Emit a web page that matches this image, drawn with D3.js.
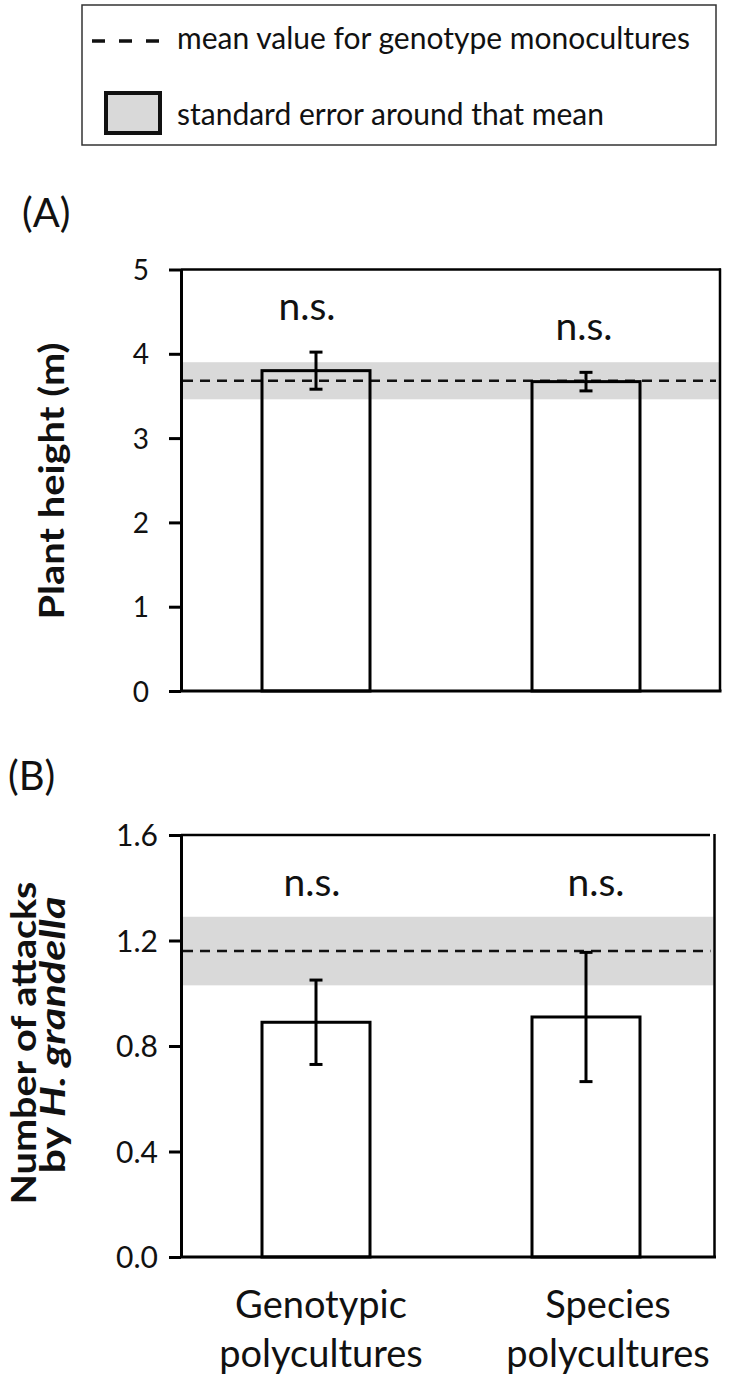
<!DOCTYPE html>
<html>
<head>
<meta charset="utf-8">
<script src="https://cdn.jsdelivr.net/npm/d3@7"></script>
<style>
  body { margin: 0; background: #fff; }
  svg text { font-family: Lato, 'Open Sans', sans-serif; fill: #111; }
</style>
</head>
<body>
<script>
'use strict'

// categories shared by both panels
var categories = ['Genotypic polycultures', 'Species polycultures']
var categoryLines = [['Genotypic', 'polycultures'], ['Species', 'polycultures']]

// (A) plant height (m)
var heightMean = [3.80, 3.67]
var heightSE = [0.22, 0.11]
var heightMonoMean = 3.68
var heightMonoSE = 0.22
var heightTicks = [0, 1, 2, 3, 4, 5]

// (B) attacks by H. grandella
var attackMean = [0.89, 0.91]
var attackSE = [0.16, 0.245]
var attackMonoMean = 1.16
var attackMonoSE = 0.13
var attackTicks = [0, 0.4, 0.8, 1.2, 1.6]

var W = 729
var H = 1380

var svg = d3.select('body').append('svg')
  .attr('width', W)
  .attr('height', H)

// ---------- legend ----------
var legend = svg.append('g')
legend.append('rect')
  .attr('x', 82).attr('y', 5)
  .attr('width', 634).attr('height', 140)
  .attr('fill', 'none')
  .attr('stroke', '#333')
  .attr('stroke-width', 1.5)
legend.append('line')
  .attr('x1', 92).attr('x2', 160)
  .attr('y1', 41).attr('y2', 41)
  .attr('stroke', '#111')
  .attr('stroke-width', 3.5)
  .attr('stroke-dasharray', '13,14')
legend.append('text')
  .attr('x', 177).attr('y', 49)
  .attr('font-size', '30px')
  .text('mean value for genotype monocultures')
legend.append('rect')
  .attr('x', 106).attr('y', 93)
  .attr('width', 54).attr('height', 40)
  .attr('fill', '#d9d9d9')
  .attr('stroke', '#111')
  .attr('stroke-width', 4)
legend.append('text')
  .attr('x', 177).attr('y', 125)
  .attr('font-size', '30px')
  .text('standard error around that mean')

var x = d3.scaleBand()
  .domain(categories)
  .range([181, 721])
  .paddingInner(0.6)
  .paddingOuter(0.3)

function drawPanel (opt) {
  var g = svg.append('g')
  var y = d3.scaleLinear().domain(opt.domain).range(opt.range)
  var left = x.range()[0]
  var right = opt.right
  var data = categories.map(function (c, i) {
    return { cat: c, mean: opt.mean[i], se: opt.se[i], i: i }
  })

  // panel letter
  g.append('text')
    .attr('x', opt.letterX).attr('y', opt.letterY)
    .attr('font-size', '40px')
    .text(opt.letter)

  // SE band of monocultures
  g.append('rect')
    .attr('x', left)
    .attr('width', right - left - 1)
    .attr('y', y(opt.monoMean + opt.monoSE))
    .attr('height', y(opt.monoMean - opt.monoSE) - y(opt.monoMean + opt.monoSE))
    .attr('fill', '#d9d9d9')

  // mean of monocultures
  g.append('line')
    .attr('x1', left + 2).attr('x2', right - 4)
    .attr('y1', y(opt.monoMean)).attr('y2', y(opt.monoMean))
    .attr('stroke', '#111')
    .attr('stroke-width', 2.5)
    .attr('stroke-dasharray', '10,7')

  // bars
  g.selectAll('.bar')
    .data(data)
    .enter().append('rect')
    .attr('class', 'bar')
    .attr('x', function (d) { return x(d.cat) })
    .attr('width', x.bandwidth())
    .attr('y', function (d) { return y(d.mean) })
    .attr('height', function (d) { return y(0) - y(d.mean) })
    .attr('fill', 'none')
    .attr('stroke', '#000')
    .attr('stroke-width', 3)

  // error bars
  var cap = 6.5
  var eb = g.selectAll('.err')
    .data(data)
    .enter().append('g')
    .attr('class', 'err')
    .attr('stroke', '#000')
    .attr('stroke-width', 3)
  eb.append('line')
    .attr('x1', function (d) { return x(d.cat) + x.bandwidth() / 2 })
    .attr('x2', function (d) { return x(d.cat) + x.bandwidth() / 2 })
    .attr('y1', function (d) { return y(d.mean - d.se) })
    .attr('y2', function (d) { return y(d.mean + d.se) })
  eb.selectAll('.cap')
    .data(function (d) { return [d.mean - d.se, d.mean + d.se].map(function (v) { return { cat: d.cat, v: v } }) })
    .enter().append('line')
    .attr('x1', function (d) { return x(d.cat) + x.bandwidth() / 2 - cap })
    .attr('x2', function (d) { return x(d.cat) + x.bandwidth() / 2 + cap })
    .attr('y1', function (d) { return y(d.v) })
    .attr('y2', function (d) { return y(d.v) })

  // n.s. labels
  g.selectAll('.ns')
    .data(data)
    .enter().append('text')
    .attr('class', 'ns')
    .attr('text-anchor', 'middle')
    .attr('font-size', '39px')
    .attr('x', function (d) { return x(d.cat) + x.bandwidth() / 2 + opt.nsDx[d.i] })
    .attr('y', function (d) { return opt.nsY(y, d) })
    .text('n.s.')

  // frame: top and right
  g.append('line')
    .attr('x1', left).attr('x2', opt.topEnd)
    .attr('y1', y.range()[1]).attr('y2', y.range()[1])
    .attr('stroke', '#000').attr('stroke-width', 2.5)
  g.append('line')
    .attr('x1', right).attr('x2', right)
    .attr('y1', y.range()[1] - 1).attr('y2', y(0))
    .attr('stroke', '#000').attr('stroke-width', 2.5)
  // bottom line
  g.append('line')
    .attr('x1', left).attr('x2', right + 1.5)
    .attr('y1', y(0)).attr('y2', y(0))
    .attr('stroke', '#000').attr('stroke-width', 3)

  // y axis
  var ax = g.append('g')
    .attr('transform', 'translate(' + left + ',0)')
    .call(d3.axisLeft(y)
      .tickValues(opt.ticks)
      .tickSize(12)
      .tickSizeOuter(0)
      .tickPadding(opt.tickPad)
      .tickFormat(opt.fmt))
  ax.select('.domain').attr('stroke', '#000').attr('stroke-width', 3)
  ax.selectAll('.tick line').attr('stroke', '#000').attr('stroke-width', 3)
  ax.selectAll('.tick text')
    .attr('font-family', 'Lato, sans-serif')
    .attr('font-size', opt.tickFont)
    .attr('fill', '#111')
    .attr('dy', '0.36em')

  // y title (rotated, one text per line)
  opt.title.forEach(function (line) {
    var tt = g.append('text')
      .attr('transform', 'translate(' + line.x + ',' + line.y + ') rotate(-90)')
      .attr('text-anchor', 'middle')
      .attr('font-weight', 700)
      .attr('font-size', line.size)
      .attr('textLength', line.len)
      .attr('lengthAdjust', 'spacingAndGlyphs')
    line.parts.forEach(function (p) {
      tt.append('tspan')
        .attr('font-style', p.italic ? 'italic' : 'normal')
        .text(p.text)
    })
  })
  return y
}

drawPanel({
  letter: '(A)', letterX: 22, letterY: 227,
  domain: [0, 5], range: [691, 269.5],
  right: 720, topEnd: 721,
  mean: heightMean, se: heightSE,
  monoMean: heightMonoMean, monoSE: heightMonoSE,
  ticks: heightTicks, fmt: d3.format('d'), tickPad: 20, tickFont: '28px',
  nsDx: [-9, -2],
  nsY: function (y, d) { return y(d.mean + d.se) - 32 },
  title: [
    { x: 64, y: 481, size: '34px', len: 277, parts: [{ text: 'Plant height (m)' }] }
  ]
})

var yB = drawPanel({
  letter: '(B)', letterX: 8, letterY: 790,
  domain: [0, 1.6], range: [1257, 835],
  right: 714.5, topEnd: 710,
  mean: attackMean, se: attackSE,
  monoMean: attackMonoMean, monoSE: attackMonoSE,
  ticks: attackTicks, fmt: d3.format('.1f'), tickPad: 11, tickFont: '30px',
  nsDx: [-4, 10],
  nsY: function (y, d) { return y(1.6) + 61 },
  title: [
    { x: 36, y: 1043, size: '35px', len: 323, parts: [{ text: 'Number of attacks' }] },
    { x: 65, y: 1035, size: '34px', len: 277, parts: [{ text: 'by ' }, { text: 'H. grandella', italic: true }] }
  ]
})

// category labels under panel B
var labelDx = [5, 22]
var cl = svg.append('g')
  .selectAll('text')
  .data(categories)
  .enter().append('text')
  .attr('text-anchor', 'middle')
  .attr('font-size', '38px')
  .attr('y', yB(0) + 61)
cl.each(function (d, i) {
  var el = d3.select(this)
  categoryLines[i].forEach(function (s, k) {
    el.append('tspan')
      .attr('x', x(d) + x.bandwidth() / 2 + labelDx[i])
      .attr('dy', k === 0 ? 0 : 49)
      .text(s)
  })
})
</script>
</body>
</html>
